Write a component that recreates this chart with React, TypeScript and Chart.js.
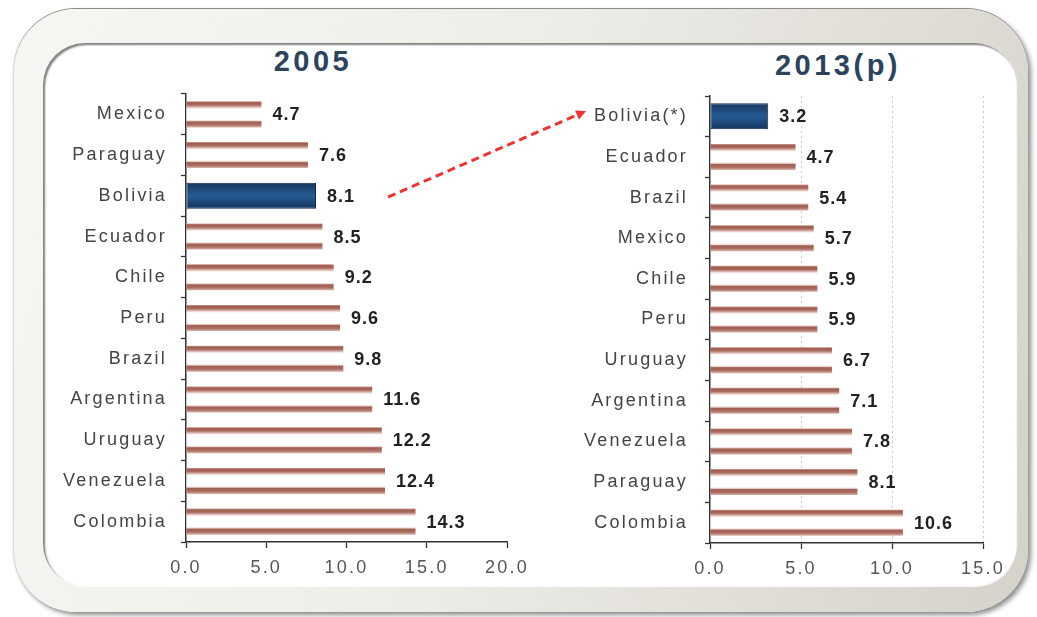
import React, { useEffect, useRef } from 'react';
import { Chart, registerables } from 'chart.js';

Chart.register(...registerables);

// ---- Data ----
const categories2005 = ['Mexico', 'Paraguay', 'Bolivia', 'Ecuador', 'Chile', 'Peru', 'Brazil', 'Argentina', 'Uruguay', 'Venezuela', 'Colombia'];
const values2005 = [4.7, 7.6, 8.1, 8.5, 9.2, 9.6, 9.8, 11.6, 12.2, 12.4, 14.3];
const ticks2005 = [0, 5, 10, 15, 20];
const highlight2005 = 'Bolivia';

const categories2013 = ['Bolivia(*)', 'Ecuador', 'Brazil', 'Mexico', 'Chile', 'Peru', 'Uruguay', 'Argentina', 'Venezuela', 'Paraguay', 'Colombia'];
const values2013 = [3.2, 4.7, 5.4, 5.7, 5.9, 5.9, 6.7, 7.1, 7.8, 8.1, 10.6];
const ticks2013 = [0, 5, 10, 15];
const highlight2013 = 'Bolivia(*)';

const title2005 = '2005';
const title2013 = '2013(p)';

const FONT = '"Liberation Sans", Arial, sans-serif';
const BAR_FRACTION = 0.8 * 0.8;

function makeFill(labels: string[], highlight: string) {
  const hi = labels.indexOf(highlight);
  return (ctx: any) => {
    const chart = ctx.chart;
    const yScale = chart.scales && chart.scales.y;
    const area = chart.chartArea;
    if (!yScale || !area) return ctx.dataIndex === hi ? '#1f4f82' : '#b07565';
    const center = yScale.getPixelForValue(ctx.dataIndex);
    const band = (area.bottom - area.top) / labels.length;
    const h = band * BAR_FRACTION;
    const top = center - h / 2;
    const g = chart.ctx.createLinearGradient(0, top, 0, top + h);
    if (ctx.dataIndex === hi) {
      g.addColorStop(0, '#17385f');
      g.addColorStop(0.5, '#255a93');
      g.addColorStop(1, '#15355c');
      return g;
    }
    g.addColorStop(0, '#d4a597');
    g.addColorStop(0.05, '#a05d52');
    g.addColorStop(0.14, '#a96b5f');
    g.addColorStop(0.21, '#d3aca2');
    g.addColorStop(0.27, '#f8eeeb');
    g.addColorStop(0.31, '#ffffff');
    g.addColorStop(0.69, '#ffffff');
    g.addColorStop(0.74, '#f0ddd8');
    g.addColorStop(0.79, '#a05d52');
    g.addColorStop(0.9, '#ab6f63');
    g.addColorStop(1, '#dcb6ac');
    return g;
  };
}

function makeConfig(opts: {
  labels: string[];
  values: number[];
  ticks: number[];
  highlight: string;
  yWidth: number;
  labelPad: number;
  gridOnArea: boolean;
}): any {
  const { labels, values, ticks, highlight, yWidth, labelPad, gridOnArea } = opts;
  const hi = labels.indexOf(highlight);
  const valuePlugin = {
    id: 'valueLabels',
    beforeDraw(chart: any) {
      chart.ctx.letterSpacing = '2.2px';
    },
    afterDatasetsDraw(chart: any) {
      const ctx = chart.ctx;
      const meta = chart.getDatasetMeta(0);
      ctx.save();
      ctx.letterSpacing = '1px';
      ctx.font = `bold 18px ${FONT}`;
      ctx.fillStyle = '#222222';
      ctx.textAlign = 'left';
      ctx.textBaseline = 'middle';
      meta.data.forEach((el: any, i: number) => {
        ctx.fillText(values[i].toFixed(1), el.x + 11, el.y + 1);
      });
      ctx.restore();
    },
  };
  return {
    type: 'bar',
    data: {
      labels,
      datasets: [
        {
          data: values,
          backgroundColor: makeFill(labels, highlight),
          borderColor: (c: any) => (c.dataIndex === hi ? '#0f2a4c' : 'rgba(0,0,0,0)'),
          borderWidth: (c: any) => (c.dataIndex === hi ? 1 : 0),
          borderSkipped: false,
          barPercentage: 0.8,
          categoryPercentage: 0.8,
        },
      ],
    },
    options: {
      indexAxis: 'y',
      animation: false,
      responsive: false,
      maintainAspectRatio: false,
      layout: { padding: { top: 10, right: 30, left: 0, bottom: 0 } },
      plugins: { legend: { display: false }, tooltip: { enabled: false } },
      scales: {
        x: {
          type: 'linear',
          min: ticks[0],
          max: ticks[ticks.length - 1],
          afterBuildTicks: (s: any) => {
            s.ticks = ticks.map((v) => ({ value: v }));
          },
          afterFit: (s: any) => {
            s.height = 40;
          },
          ticks: {
            callback: (v: any) => Number(v).toFixed(1),
            color: '#555555',
            font: { family: FONT, size: 18 },
            padding: 9,
            maxRotation: 0,
            autoSkip: false,
          },
          grid: {
            display: true,
            drawOnChartArea: gridOnArea,
            drawTicks: true,
            tickLength: 6,
            tickColor: '#333333',
            tickWidth: 1.3,
            lineWidth: 1,
            color: (c: any) => (c.tick && c.tick.value === 0 ? 'rgba(0,0,0,0)' : '#c9c9c9'),
          },
          border: { display: true, color: '#333333', width: 1.5, dash: [2, 3] },
        },
        y: {
          type: 'category',
          afterFit: (s: any) => {
            s.width = yWidth;
            s.paddingTop = 0;
            s.paddingBottom = 0;
          },
          ticks: {
            color: '#444444',
            font: { family: FONT, size: 18 },
            padding: labelPad,
            autoSkip: false,
          },
          grid: {
            display: true,
            offset: true,
            drawOnChartArea: false,
            drawTicks: true,
            tickLength: 5,
            tickColor: '#333333',
            tickWidth: 1.3,
          },
          border: { display: true, color: '#333333', width: 1.5 },
        },
      },
    },
    plugins: [valuePlugin],
  };
}

function BarPanel(props: {
  left: number;
  top: number;
  width: number;
  height: number;
  config: any;
}) {
  const ref = useRef<HTMLCanvasElement | null>(null);
  useEffect(() => {
    if (!ref.current) return;
    const chart = new Chart(ref.current, props.config);
    return () => chart.destroy();
  }, []);
  return (
    <canvas
      ref={ref}
      width={props.width}
      height={props.height}
      style={{
        position: 'absolute',
        left: props.left,
        top: props.top,
        width: props.width,
        height: props.height,
        display: 'block',
      }}
    />
  );
}

export default function App() {
  const leftConfig = makeConfig({
    labels: categories2005,
    values: values2005,
    ticks: ticks2005,
    highlight: highlight2005,
    yWidth: 146,
    labelPad: 14,
    gridOnArea: false,
  });
  const rightConfig = makeConfig({
    labels: categories2013,
    values: values2013,
    ticks: ticks2013,
    highlight: highlight2013,
    yWidth: 140,
    labelPad: 17,
    gridOnArea: true,
  });

  const titleStyle: React.CSSProperties = {
    position: 'absolute',
    fontFamily: FONT,
    fontWeight: 'bold',
    fontSize: 29,
    lineHeight: '29px',
    letterSpacing: '3.5px',
    color: '#2c435d',
    textAlign: 'center',
    width: 300,
    whiteSpace: 'nowrap',
  };

  return (
    <div
      style={{
        position: 'absolute',
        left: 0,
        top: 0,
        width: 1037,
        height: 617,
        overflow: 'hidden',
        background: '#ffffff',
      }}
    >
      {/* outer bevelled frame */}
      <div
        style={{
          position: 'absolute',
          left: 14,
          top: 9,
          width: 1014,
          height: 603,
          borderRadius: 62,
          background: 'linear-gradient(105deg, #f7f6f2 0%, #efede8 45%, #d5d2ca 100%)',
          boxShadow: '0 -1px 0 #8c8a84, 3px 3px 5px rgba(0,0,0,0.45), -1px 0 2px rgba(0,0,0,0.15)',
        }}
      />
      {/* inner white panel */}
      <div
        style={{
          position: 'absolute',
          left: 43,
          top: 43,
          width: 973,
          height: 543,
          borderRadius: 42,
          background: '#ffffff',
          boxShadow: 'inset 2px 2px 2px rgba(0,0,0,0.5), 1px 1px 1px rgba(255,255,255,0.9)',
        }}
      />
      <div style={{ ...titleStyle, left: 163, top: 47 }}>{title2005}</div>
      <div style={{ ...titleStyle, left: 688, top: 51 }}>{title2013}</div>

      <BarPanel left={40} top={84} width={497} height={498} config={leftConfig} />
      <BarPanel left={570} top={86} width={443} height={497} config={rightConfig} />

      <svg
        width={1037}
        height={617}
        style={{ position: 'absolute', left: 0, top: 0, pointerEvents: 'none' }}
      >
        <line
          x1={388}
          y1={197}
          x2={577}
          y2={115}
          stroke="#ee3333"
          strokeWidth={3}
          strokeDasharray="8 5"
        />
        <polygon points="586,111 579,119.6 575,110.4" fill="#ee3333" />
      </svg>
    </div>
  );
}
